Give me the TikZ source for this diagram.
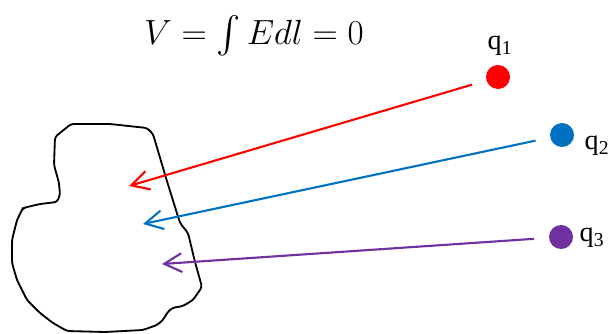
\documentclass[tikz,border=0pt]{standalone}
\usepackage{fontspec}
\usepackage{amsmath,amssymb}
\setmainfont{Liberation Serif}
\usetikzlibrary{arrows.meta, positioning}

\begin{document}
\begin{tikzpicture}[x=0.025cm, y=-0.025cm, >={Straight Barb[length=0.44cm, width=0.47cm]}, line width=1.5pt]
      \colorlet{chargered}{red} \colorlet{chargeblue}{rgb,255:red,0;green,112;blue,192}
      \colorlet{chargepurple}{rgb,255:red,112;green,48;blue,160}
      \tikzset{charge/.style={circle, inner sep=0pt, minimum size=0.6cm},
               qlabel/.style={font=\fontsize{20}{22}\selectfont},
               field/.style={->, shorten <=0.35cm}}
      \useasboundingbox (0,0) rectangle (611,334);
      % formula
      \node[font=\fontsize{26}{30}\selectfont, inner sep=0pt] (formula) at (254,36) {$V=\int E dl=0$};
      % closed path
      \draw[line width=1.3pt, rounded corners=2pt] (71,124) -- (110,124) -- (147,128) -- (153,134) -- (166,178)
        -- (180,223) -- (188,233) -- (195,262) -- (202,287) -- (193,300) -- (183,306) -- (172,308)
        -- (167,313) -- (163,320) -- (157,325) -- (143,330) -- (105,332) -- (67,331) -- (53,323)
        -- (40,313) -- (27,300) -- (17,280) -- (12,263) -- (12,240) -- (17,220) -- (22,210)
        -- (23,208) -- (40,204) -- (57,202) -- (60,195) -- (59,183) -- (54,165) -- (55,137) -- cycle;
      % charges
      \node[charge, fill=chargered] (q1) at (498,77) {};
      \node[charge, fill=chargeblue] (q2) at (562,135) {};
      \node[charge, fill=chargepurple] (q3) at (561,237) {};
      \node[qlabel] (l1) at (500,46) {q\textsubscript{1}};
      \node[qlabel] (l2) at (597,146) {q\textsubscript{2}};
      \node[qlabel] (l3) at (592,238) {q\textsubscript{3}};
      % field arrows
      \coordinate (t1) at (129,186);
      \coordinate (t2) at (143,224);
      \coordinate (t3) at (162,264);
      \draw[field, chargered] (q1) -- (t1);
      \draw[field, chargeblue] (q2) -- (t2);
      \draw[field, chargepurple] (q3) -- (t3);
\end{tikzpicture}
\end{document}
